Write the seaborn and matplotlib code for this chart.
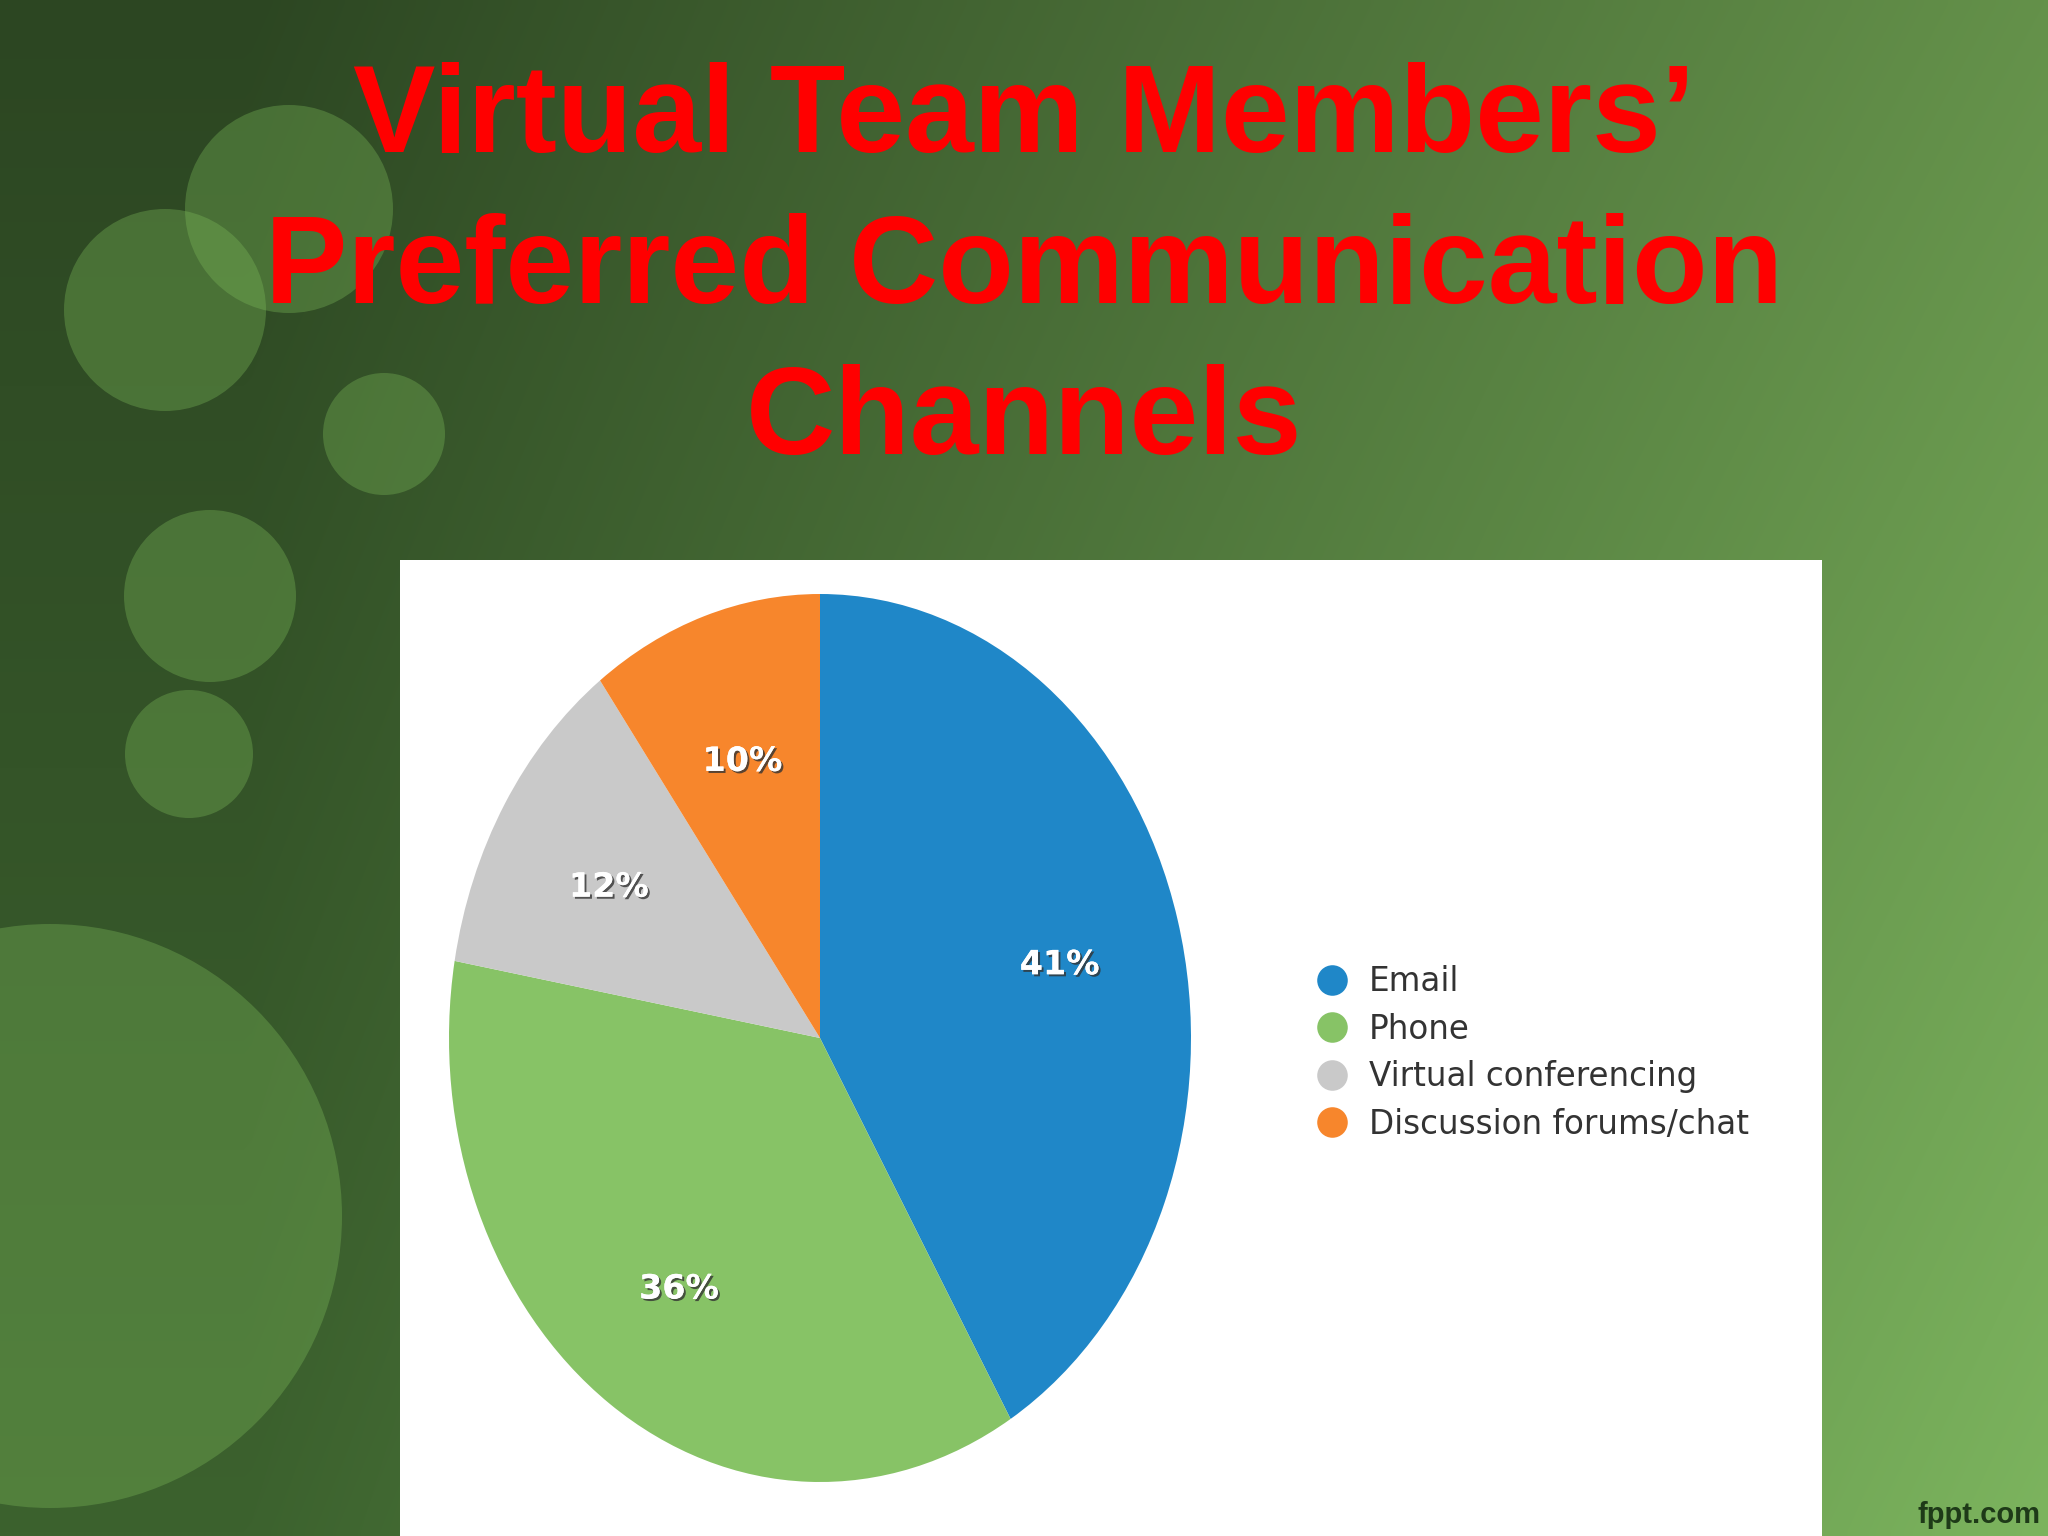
import numpy as np
import matplotlib
matplotlib.use("Agg")
import matplotlib.pyplot as plt
import matplotlib.patheffects as pe
import matplotlib.transforms as mtransforms
from matplotlib.patches import Circle, Rectangle
from matplotlib.lines import Line2D
import seaborn as sns

# ---- data ----
categories = ["Email", "Phone", "Virtual conferencing", "Discussion forums/chat"]
shares = [41, 36, 12, 10]
slice_colors = ["#1f87c8", "#87c366", "#c9c9c9", "#f7862c"]
title_lines = ["Virtual Team Members\u2019", "Preferred Communication", "Channels"]
footer = "fppt.com"

sns.set_theme(style="white")
plt.rcParams["font.family"] = ["DejaVu Sans"]
palette = sns.color_palette(slice_colors)

W, H = 2048, 1536
fig = plt.figure(figsize=(W / 100, H / 100), dpi=100)

# ---- background ----
bg = fig.add_axes([0, 0, 1, 1])
bg.set_xlim(0, W)
bg.set_ylim(H, 0)
bg.axis("off")
tl = np.array([44, 70, 34]) / 255
tr = np.array([100, 145, 74]) / 255
bl = np.array([60, 98, 46]) / 255
br = np.array([124, 180, 94]) / 255
xx = np.linspace(0, 1, 256)[None, :, None]
yy = np.linspace(0, 1, 192)[:, None, None]
xs = np.clip((xx - 0.12) / 0.88, 0, 1)
img = (1 - yy) * ((1 - xs) * tl + xs * tr) + yy * ((1 - xs) * bl + xs * br)
bg.imshow(img, extent=(0, W, H, 0), aspect="auto", interpolation="bilinear", zorder=0)

circle_specs = [(289, 209, 104), (165, 310, 101), (384, 434, 61), (210, 596, 86),
                (189, 754, 64), (50, 1216, 292)]
for cx, cy, r in circle_specs:
    bg.add_patch(Circle((cx, cy), r, facecolor="#7dbb5a", edgecolor="none", alpha=0.35, zorder=1))

bg.add_patch(Rectangle((400, 560), 1422, 976, facecolor="white", edgecolor="none", zorder=2))

# ---- title ----
for i, line in enumerate(title_lines):
    fig.text(1024 / W, 1 - (120 + 151 * i) / H, line, ha="center", va="center",
             color="#ff0000", fontsize=89, fontweight="bold", family="Liberation Sans")

fig.text(2040 / W, 1 - 1515 / H, footer, ha="right", va="center", color="#1e3a18",
         fontsize=21, fontweight="bold", family="Liberation Sans")

# ---- pie ----
cx, cy, rx, ry = 820, 1038, 371, 444
ax = fig.add_axes([(cx - rx) / W, (H - cy - ry) / H, 2 * rx / W, 2 * ry / H])
wedges, texts, autotexts = ax.pie(
    shares, colors=palette, startangle=90, counterclock=False,
    autopct="%.0f%%", pctdistance=0.67, radius=1.0,
    wedgeprops=dict(linewidth=0, edgecolor="none"),
    textprops=dict(color="white", fontsize=24, fontweight="bold"))
shift = mtransforms.ScaledTranslation(0, -0.06, fig.dpi_scale_trans)
for t in autotexts:
    t.set_transform(t.get_transform() + shift)
    t.set_path_effects([pe.withSimplePatchShadow(offset=(1.5, -1.5), shadow_rgbFace="#333333", alpha=0.8),
                        pe.Normal()])
ax.set_aspect("auto")
ax.set_xlim(-1.0, 1.0)
ax.set_ylim(-1.0, 1.0)
ax.axis("off")

# ---- legend ----
handles = [Line2D([0], [0], marker="o", linestyle="none", markersize=22,
                  markerfacecolor=c, markeredgecolor="none") for c in palette]
leg = fig.legend(handles, categories, loc="center left",
                 bbox_to_anchor=(1296 / W, 1 - 1053 / H), frameon=False,
                 borderpad=0, handlelength=1.2, handletextpad=0.53,
                 labelspacing=0.44, prop=dict(family="DejaVu Sans", size=23.5))
for t in leg.get_texts():
    t.set_color("#333333")

fig.savefig("out.png", dpi=100)
